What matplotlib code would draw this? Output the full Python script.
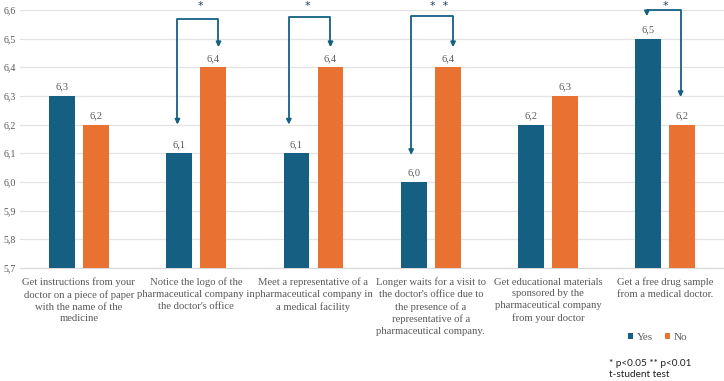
import matplotlib.pyplot as plt
import numpy as np

categories = [
    "Get instructions from your\ndoctor on a piece of paper\nwith the name of the\nmedicine",
    "Notice the logo of the\npharmaceutical company in\nthe doctor's office",
    "Meet a representative of a\npharmaceutical company in\na medical facility",
    "Longer waits for a visit to\nthe doctor's office due to\nthe presence of a\nrepresentative of a\npharmaceutical company.",
    "Get educational materials\nsponsored by the\npharmaceutical company\nfrom your doctor",
    "Get a free drug sample\nfrom a medical doctor.",
]
yes = [6.3, 6.1, 6.1, 6.0, 6.2, 6.5]
no = [6.2, 6.4, 6.4, 6.4, 6.3, 6.2]

# significance brackets: group, left x, right x, top, left tip, right tip, stars
br_group = [1, 2, 3, 5]
br_xl = [-0.16, -0.21, -0.167, -0.158]
br_xr = [0.19, 0.145, 0.19, 0.13]
br_top = [6.568, 6.575, 6.578, 6.60]
br_ltip = [6.20, 6.20, 6.094, 6.578]
br_rtip = [6.47, 6.47, 6.47, 6.296]
br_star = ["*", "*", "*  *", "*"]
br_star_dx = [0.036, -0.05, 0.07, 0.0]

BLUE = "#156082"
ORANGE = "#E97132"
GRAY = "#595959"
SERIF = ["Liberation Serif", "DejaVu Serif"]

fig = plt.figure(figsize=(7.24, 3.81), dpi=100)
ax = fig.add_axes([0.028, 0.297, 0.972, 0.677])

x = np.arange(len(categories))
w = 0.22
off = 0.145
b1 = ax.bar(x - off, yes, w, color=BLUE, label="Yes", zorder=3)
b2 = ax.bar(x + off, no, w, color=ORANGE, label="No", zorder=3)

for bars, vals in ((b1, yes), (b2, no)):
    for r, v in zip(bars, vals):
        ax.annotate(f"{v:.1f}".replace(".", ","), (r.get_x() + r.get_width() / 2, v),
                    xytext=(0, 3), textcoords="offset points", ha="center", va="bottom",
                    fontsize=7.5, color=GRAY, family=SERIF)

ax.set_ylim(5.7, 6.6)
ax.set_xlim(-0.5, len(categories) - 0.5)
yt = np.arange(5.7, 6.61, 0.1)
ax.set_yticks(yt)
ax.set_yticklabels([f"{t:.1f}".replace(".", ",") for t in yt], fontsize=7.2, color=GRAY, family=SERIF)
ax.set_xticks(x)
ax.set_xticklabels(categories, fontsize=7.7, color=GRAY, family=SERIF, linespacing=1.38)
ax.tick_params(length=0, pad=7)
ax.tick_params(axis="y", pad=3)
ax.grid(axis="y", color="#e3e3e3", lw=0.9, zorder=0)
for s in ["top", "right", "left"]:
    ax.spines[s].set_visible(False)
ax.spines["bottom"].set_color("#d9d9d9")

for g, xl, xr, top, lt, rt, st, dx in zip(br_group, br_xl, br_xr, br_top, br_ltip, br_rtip, br_star, br_star_dx):
    ax.plot([g + xl, g + xl, g + xr, g + xr], [lt + 0.01, top, top, rt + 0.01],
            color=BLUE, lw=1.3, clip_on=False, zorder=4)
    for xx, tip in ((g + xl, lt), (g + xr, rt)):
        ax.annotate("", xy=(xx, tip), xytext=(xx, tip + 0.02), annotation_clip=False,
                    arrowprops=dict(arrowstyle="-|>", color=BLUE, lw=1.3,
                                    mutation_scale=7, shrinkA=0, shrinkB=0))
    ax.text(g + dx, 6.612, st, ha="center", va="center", fontsize=8,
            color="#1b3f5e", clip_on=False)

fig.legend(handles=[b1, b2], loc="center", bbox_to_anchor=(0.908, 0.115), ncol=2,
           frameon=False, handlelength=0.5, handleheight=0.5, handletextpad=0.3,
           columnspacing=1.1, prop={"family": SERIF, "size": 8}, labelcolor=GRAY)
fig.text(0.841, 0.045, "* p<0.05 ** p<0.01", fontsize=7.2, family="Lato", color="#222222",
         va="center")
fig.text(0.841, 0.016, "t-student test", fontsize=7.2, family="Lato", color="#222222",
         va="center")

fig.savefig("out.png", dpi=100)
